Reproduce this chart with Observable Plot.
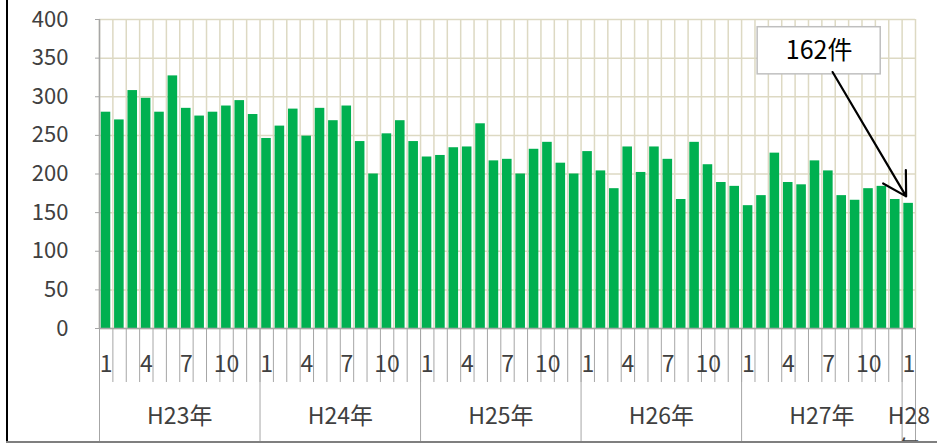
<!DOCTYPE html>
<html>
<head>
<meta charset="utf-8">
<script src="https://cdn.jsdelivr.net/npm/d3@7"></script>
<script src="https://cdn.jsdelivr.net/npm/@observablehq/plot@0.6"></script>
<style>
  html, body { margin: 0; padding: 0; background: #fff; }
  #wrap { position: relative; width: 937px; height: 443px; overflow: hidden; }
  #leftLine { position: absolute; left: 6px; top: 0; width: 2px; height: 443px; background: #000; }
  #bottomLine { position: absolute; left: 6px; top: 441px; width: 931px; height: 2px; background: #7f7f7f; }
</style>
</head>
<body>
<div id="wrap"><div id="leftLine"></div><div id="bottomLine"></div></div>
<script>
// Monthly counts, H23 Jan .. H28 Jan
const values = [
  280, 270, 308, 298, 280, 327, 285, 275, 280, 288, 295, 277,
  246, 262, 284, 249, 285, 269, 288, 242, 200, 252, 269, 242,
  222, 224, 234, 235, 265, 217, 219, 200, 232, 241, 214, 200,
  229, 204, 181, 235, 202, 235, 219, 167, 241, 212, 189, 184,
  159, 172, 227, 189, 186, 217, 204, 172, 166, 181, 184, 167,
  162
];
const years = ["H23年", "H24年", "H25年", "H26年", "H27年", "H28\n年"];
const monthsPerYear = [12, 12, 12, 12, 12, 1];
const monthTickLabels = [1, 4, 7, 10];
const yTicks = [0, 50, 100, 150, 200, 250, 300, 350, 400];
const annotationText = "162件";

// Build tables
const data = values.map((v, i) => ({ i, value: v, month: (i % 12) + 1 }));
const monthLabels = data.filter(d => monthTickLabels.includes(d.month));
let start = 0;
const groups = years.map((y, k) => {
  const g = { label: y, start, end: start + monthsPerYear[k] };
  start = g.end;
  return g;
});
const boundaries = [...groups.map(g => g.start), groups[groups.length - 1].end];
const last = data[data.length - 1];
const note = {
  text: annotationText,
  bx1: last.i - 10.8, bx2: last.i - 1.6, by1: 329, by2: 390,
  ax1: last.i - 5.2, ay1: 332, ax2: last.i + 0.3, ay2: last.value + 9
};

const grid = "#ddd9c3";
const axisGray = "#a6a6a6";
const font = "'Noto Sans CJK JP', 'Noto Sans', sans-serif";

const chart = Plot.plot({
  width: 937,
  height: 443,
  marginLeft: 99,
  marginRight: 22,
  marginTop: 19,
  marginBottom: 115,
  style: { fontFamily: font, fontSize: "22px", color: "#404040", background: "transparent", overflow: "visible" },
  x: { type: "linear", domain: [0, data.length], axis: null },
  y: { domain: [0, 400], axis: null },
  marks: [
    Plot.ruleY(yTicks, { stroke: grid, strokeWidth: 1.5 }),
    Plot.ruleX(d3.range(0, data.length + 1), { stroke: grid, strokeWidth: 1.5 }),
    Plot.rectY(data, { x1: d => d.i, x2: d => d.i + 1, y: "value", fill: "#00b050", insetLeft: 1.7, insetRight: 2.1 }),
    Plot.ruleY([0], { stroke: axisGray, strokeWidth: 1.5 }),
    Plot.ruleX([0], { stroke: axisGray, strokeWidth: 1.5 }),
    Plot.axisY({ ticks: yTicks, tickSize: 4, tickPadding: 27, stroke: axisGray, fontSize: 22, fill: "#404040", label: null }),
    Plot.axisX({ ticks: d3.range(0, data.length + 1), tickSize: 54, tickFormat: () => "", stroke: axisGray, label: null }),
    Plot.axisX({ ticks: boundaries, tickSize: 115, tickFormat: () => "", stroke: axisGray, label: null }),
    Plot.text(monthLabels, { x: d => d.i + 0.5, y: () => 0, text: d => String(d.month), dy: 36, fontSize: 23, fill: "#404040" }),
    Plot.text(groups, { x: g => (g.start + g.end) / 2, y: () => 0, text: "label", lineAnchor: "top", lineHeight: 1.4, dy: 73, fontSize: 23, fill: "#404040" }),
    Plot.rect([note], { x1: "bx1", x2: "bx2", y1: "by1", y2: "by2", fill: "#fff", stroke: "#bfbfbf", strokeWidth: 1.5 }),
    Plot.text([note], { x: d => (d.bx1 + d.bx2) / 2, y: d => (d.by1 + d.by2) / 2, text: "text", fontSize: 25, fill: "#000" }),
    Plot.arrow([note], { x1: "ax1", y1: "ay1", x2: "ax2", y2: "ay2", stroke: "#000", strokeWidth: 2.2, headLength: 18, headAngle: 60 })
  ]
});
chart.style.position = "absolute";
chart.style.left = "0";
chart.style.top = "0";
document.getElementById("wrap").prepend(chart);
</script>
</body>
</html>
